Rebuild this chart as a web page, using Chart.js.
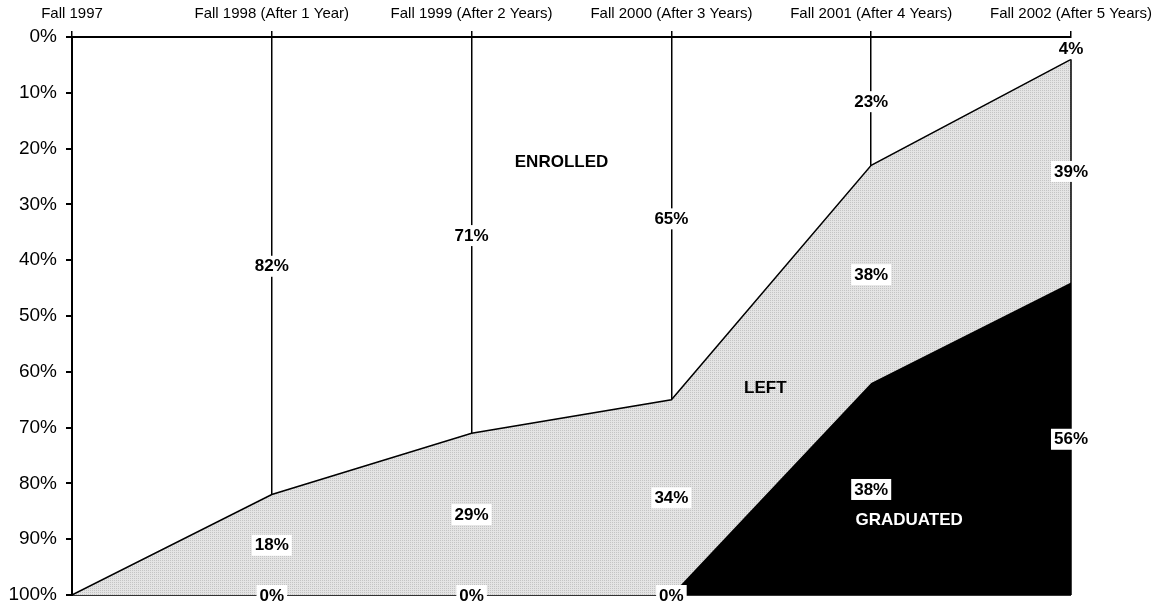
<!DOCTYPE html>
<html>
<head>
<meta charset="utf-8">
<script src="https://cdn.jsdelivr.net/npm/chart.js@4"></script>
<style>
  body { margin: 0; background: #fff; }
</style>
</head>
<body>
<canvas id="chart" width="1155" height="605"></canvas>
<script>
// cohort status by term, percent of the entering class
const terms = ['Fall 1997', 'Fall 1998 (After 1 Year)', 'Fall 1999 (After 2 Years)',
    'Fall 2000 (After 3 Years)', 'Fall 2001 (After 4 Years)', 'Fall 2002 (After 5 Years)'];
const enrolled = [100, 82, 71, 65, 23, 4];
const left = [0, 18, 29, 34, 38, 39];
const graduated = [0, 0, 0, 0, 38, 56];
const yTicks = [0, 10, 20, 30, 40, 50, 60, 70, 80, 90, 100];

const FONT = 'Arial, "Liberation Sans", sans-serif';

// light grey dotted fill like the printed original
function dotPattern() {
    const c = document.createElement('canvas');
    c.width = 2;
    c.height = 2;
    const g = c.getContext('2d');
    g.fillStyle = '#e4e4e4';
    g.fillRect(0, 0, 2, 2);
    g.fillStyle = '#c4c4c4';
    g.fillRect(0, 0, 1, 1);
    return g.createPattern(c, 'repeat');
}

// y axis runs 0% at top to 100% at bottom, so "left" sits under the enrolled line
const enrolledLine = enrolled.slice();
const gradLine = graduated.map(v => 100 - v);

function boxLabel(ctx, text, x, y) {
    ctx.font = 'bold 17px ' + FONT;
    const w = ctx.measureText(text).width;
    ctx.fillStyle = '#fff';
    ctx.fillRect(x - w / 2 - 3, y - 10, w + 6, 21);
    ctx.fillStyle = '#000';
    ctx.textAlign = 'center';
    ctx.textBaseline = 'middle';
    ctx.fillText(text, x, y + 1);
}

const labelsPlugin = {
    id: 'statusLabels',
    afterDraw(chart) {
        const ctx = chart.ctx;
        const xs = chart.scales.x;
        const ys = chart.scales.y;
        ctx.save();

        // right edge of the area at the last term
        const lastX = xs.getPixelForValue(terms.length - 1);
        ctx.strokeStyle = '#000';
        ctx.lineWidth = 1.5;
        ctx.beginPath();
        ctx.moveTo(lastX, ys.getPixelForValue(enrolledLine[terms.length - 1]));
        ctx.lineTo(lastX, ys.getPixelForValue(100));
        ctx.stroke();

        for (let i = 1; i < terms.length; i++) {
            const x = xs.getPixelForValue(i);
            boxLabel(ctx, enrolled[i] + '%', x, ys.getPixelForValue(enrolledLine[i] / 2));
            boxLabel(ctx, left[i] + '%', x, ys.getPixelForValue((enrolledLine[i] + gradLine[i]) / 2));
            boxLabel(ctx, graduated[i] + '%', x, ys.getPixelForValue((gradLine[i] + 100) / 2));
        }

        // region names
        ctx.font = 'bold 17px ' + FONT;
        ctx.textAlign = 'center';
        ctx.textBaseline = 'middle';
        ctx.fillStyle = '#000';
        ctx.fillText('ENROLLED', xs.getPixelForValue(2.45), ys.getPixelForValue(22.5));
        ctx.fillText('LEFT', xs.getPixelForValue(3.47), ys.getPixelForValue(63));
        ctx.fillStyle = '#fff';
        ctx.fillText('GRADUATED', xs.getPixelForValue(4.19), ys.getPixelForValue(86.7));
        ctx.restore();
    }
};

new Chart(document.getElementById('chart'), {
    type: 'line',
    data: {
        labels: terms,
        datasets: [{
            label: 'Left',
            data: enrolledLine,
            borderColor: '#000',
            borderWidth: 1.5,
            backgroundColor: dotPattern(),
            fill: { value: 100 },
            pointRadius: 0,
            tension: 0,
            order: 2
        }, {
            label: 'Graduated',
            data: gradLine,
            borderColor: '#000',
            borderWidth: 0,
            backgroundColor: '#000',
            fill: { value: 100 },
            pointRadius: 0,
            tension: 0,
            order: 1
        }]
    },
    options: {
        responsive: false,
        animation: false,
        layout: { padding: { left: 0, right: 84, top: 0, bottom: 10 } },
        plugins: {
            legend: { display: false },
            tooltip: { enabled: false }
        },
        scales: {
            x: {
                position: 'top',
                offset: false,
                z: 1,
                afterFit(scale) {
                    scale.height = 37;
                    scale.paddingRight = 0;
                    scale.paddingLeft = 0;
                },
                border: { color: '#000', width: 2 },
                grid: {
                    color: ctx => ctx.index === terms.length - 1 ? 'rgba(0,0,0,0)' : '#000',
                    tickColor: '#000',
                    lineWidth: 1.5,
                    tickLength: 6
                },
                ticks: {
                    color: '#000',
                    font: { family: FONT, size: 15 },
                    padding: 8,
                    maxRotation: 0,
                    autoSkip: false
                }
            },
            y: {
                reverse: true,
                min: 0,
                max: 100,
                z: 1,
                afterFit(scale) {
                    scale.width = 72;
                    scale.paddingTop = 0;
                    scale.paddingBottom = 0;
                },
                afterBuildTicks(scale) { scale.ticks = yTicks.map(v => ({ value: v })); },
                border: { color: '#000', width: 2 },
                grid: {
                    color: ctx => ctx.tick && ctx.tick.value === 100 ? '#333' : 'rgba(0,0,0,0)',
                    tickColor: '#000',
                    lineWidth: 2,
                    tickLength: 6
                },
                ticks: {
                    color: '#000',
                    font: { family: FONT, size: 19 },
                    padding: 9,
                    callback: v => v + '%'
                }
            }
        }
    },
    plugins: [labelsPlugin]
});
</script>
</body>
</html>
